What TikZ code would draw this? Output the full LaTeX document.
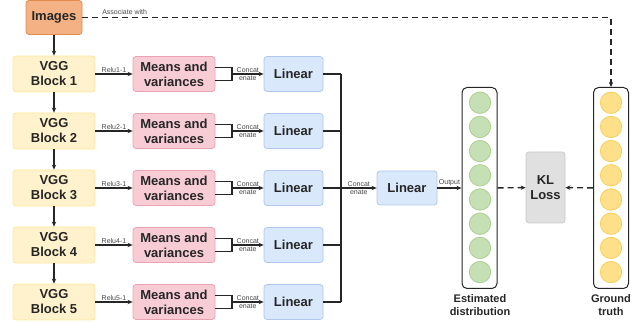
\documentclass[tikz,border=0pt]{standalone}
\usepackage{fontspec}
\setmainfont{Liberation Sans}
\usetikzlibrary{arrows.meta}
\definecolor{imgfill}{HTML}{F4B183}\definecolor{imgline}{HTML}{E08A4E}
\definecolor{vggfill}{HTML}{FFF2CC}\definecolor{vggline}{HTML}{FFE599}
\definecolor{mvfill}{HTML}{F8CCD5}\definecolor{mvline}{HTML}{EBA3B3}
\definecolor{linfill}{HTML}{DAE8FC}\definecolor{linline}{HTML}{AFC7EA}
\definecolor{klfill}{HTML}{E0E0E0}\definecolor{klline}{HTML}{C9C9C9}
\definecolor{estfill}{HTML}{C5E0B4}\definecolor{estline}{HTML}{AAD28F}
\definecolor{gtfill}{HTML}{FFE08A}\definecolor{gtline}{HTML}{F7CF5A}
\definecolor{ink}{HTML}{262626}
\tikzset{
  box/.style={draw,rounded corners=3pt,line width=0.8pt,align=center,inner sep=0pt,
    font=\bfseries\fontsize{13}{15}\selectfont,text=ink},
  tiny/.style={font=\fontsize{7}{8}\selectfont,text=ink!85,inner sep=1pt},
  conn/.style={draw=ink,line width=1.4pt},
  tip/.style={-{Stealth[length=5pt,width=4.4pt]}},
  dashy/.style={dash pattern=on 6pt off 4pt},
  unit/.style={circle,minimum size=21.4pt,inner sep=0pt,line width=0.8pt},
}
\begin{document}
\begin{tikzpicture}[x=1pt,y=-1pt]
\useasboundingbox (0,0) rectangle (635,323);
\node[box,fill=imgfill,draw=imgline,minimum width=56pt,minimum height=34pt] (img) at (54,17.5) {Images};
\foreach \i in {1,...,5} {
  \pgfmathsetmacro{\yy}{74+57*(\i-1)}
  \node[box,fill=vggfill,draw=vggline,minimum width=82pt,minimum height=36pt] (vgg\i) at (54,\yy) {VGG\\Block \i};
  \node[box,fill=mvfill,draw=mvline,minimum width=82pt,minimum height=35pt] (mv\i) at (174,\yy) {Means and\\variances};
  \node[box,fill=linfill,draw=linline,minimum width=59pt,minimum height=35pt] (lin\i) at (293.5,\yy) {Linear};
  \coordinate (cat\i) at (232,\yy);
  \coordinate (bus\i) at (341,\yy);
  \draw[conn,tip] (vgg\i) -- (mv\i) node[midway,above,tiny] {Relu\i-1};
  \draw[conn] ([yshift=6.5pt]mv\i.east) -| ([yshift=-6.5pt]cat\i) -- ([yshift=-6.5pt]mv\i.east);
  \draw[conn,tip] (cat\i) -- (lin\i) node[midway,above,tiny] {Concat} node[midway,below,tiny] {enate};
  \draw[conn] (lin\i) -- (bus\i);
}
\draw[conn,tip] (img) -- (vgg1);
\foreach \a/\b in {1/2,2/3,3/4,4/5} \draw[conn,tip] (vgg\a) -- (vgg\b);
\draw[conn] (bus1) -- (bus5);
\node[box,fill=linfill,draw=linline,minimum width=60pt,minimum height=34pt] (linout) at (407,188) {Linear};
\draw[conn,tip] (bus3) -- (linout) node[midway,above,tiny] {Concat} node[midway,below,tiny] {enate};
\node[draw=ink,line width=1pt,rounded corners=5pt,fill=white,minimum width=35pt,minimum height=201pt,inner sep=0pt] (est) at (479.5,188) {};
\node[draw=ink,line width=1pt,rounded corners=5pt,fill=white,minimum width=35pt,minimum height=201pt,inner sep=0pt] (gt) at (611,188) {};
\foreach \k in {1,...,8} {
  \node[unit,fill=estfill,draw=estline] (e\k) at (480,{102.7+24.2*(\k-1)}) {};
  \node[unit,fill=gtfill,draw=gtline] (g\k) at (611,{102.7+24.2*(\k-1)}) {};
}
\node[box,fill=klfill,draw=klline,minimum width=39pt,minimum height=71pt] (kl) at (545.5,187.5) {KL\\Loss};
\draw[conn,tip] (linout) -- (est) node[midway,above,tiny] {Output};
\draw[conn,tip,dashy] (est) -- (kl);
\draw[conn,tip,dashy] (gt) -- (kl);
\draw[conn,tip,dashy] (img) -| (gt) node[pos=0.04,above=1pt,tiny] {Associate with};
\node[align=center,font=\bfseries\fontsize{11}{13}\selectfont,text=ink] (estlab) at (480,305) {Estimated\\distribution};
\node[align=center,font=\bfseries\fontsize{11}{13}\selectfont,text=ink] (gtlab) at (611,305) {Ground\\truth};
\end{tikzpicture}
\end{document}
